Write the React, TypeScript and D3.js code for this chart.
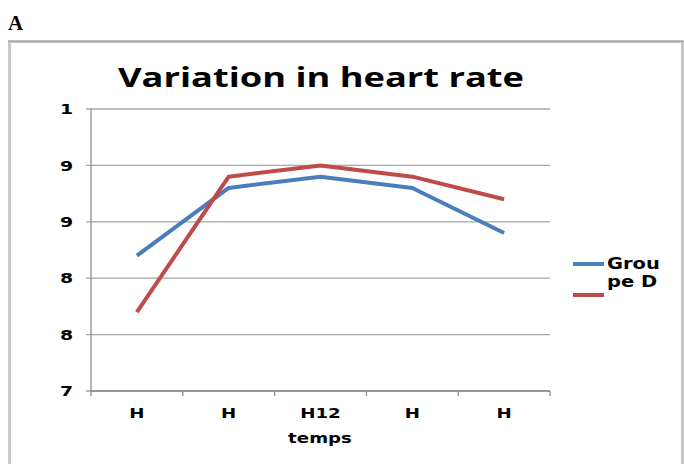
import React from 'react'
import * as d3 from 'd3'

// data
const categories = ['H', 'H', 'H12', 'H', 'H']
const blueValues = [8.7, 9.3, 9.4, 9.3, 8.9]
const redValues = [8.2, 9.4, 9.5, 9.4, 9.2]
const yTicks = [7.5, 8, 8.5, 9, 9.5, 10]
const yTickLabels = ['7', '8', '8', '9', '9', '1']
const legendLines = ['Grou', 'pe D']

const W = 684
const H = 464
const margin = { left: 91, right: 134, top: 109, bottom: 73 }

// the original picture is stretched sideways, so text is widened a bit
const widen = 1.3

export default function App() {
  var x = d3.scaleBand<number>()
    .domain(categories.map((c, i) => i))
    .range([margin.left, W - margin.right])

  var y = d3.scaleLinear()
    .domain([7.5, 10])
    .range([H - margin.bottom, margin.top])

  var line = d3.line<number>()
    .x((d, i) => x(i)! + x.bandwidth() / 2)
    .y(d => y(d))

  const sans = "'DejaVu Sans', 'Open Sans', sans-serif"
  const x0 = margin.left
  const x1 = W - margin.right
  const bottom = H - margin.bottom

  // text stretched horizontally around its anchor point
  const wide = (tx: number, ty: number) => `translate(${tx},${ty}) scale(${widen},1)`

  return (
    <div style={{ position: 'absolute', left: 0, top: 0 }}>
      <svg width={W} height={H} style={{ display: 'block', background: '#fff' }}>
        <text x={8} y={30} fontFamily="'Liberation Serif', serif" fontWeight="bold" fontSize={21}>A</text>

        {/* chart frame */}
        <rect x={9.5} y={41.5} width={673} height={440} fill="#fff" stroke="#c8c8c8" strokeWidth={3} />
        <line x1={8} x2={684} y1={41.5} y2={41.5} stroke="#a8a8a8" strokeWidth={1.5} />

        <text x={321} y={87} textAnchor="middle" fontFamily="'Open Sans', sans-serif" fontWeight="bold" fontSize={26}
          textLength={406} lengthAdjust="spacingAndGlyphs">Variation in heart rate</text>

        {/* gridlines + y ticks */}
        {yTicks.map((t, i) => (
          <g key={'y' + i}>
            <line x1={x0 - 5} x2={x1} y1={y(t)} y2={y(t)} stroke="#a6a6a6" strokeWidth={1.3} />
            <text transform={wide(73, y(t))} dy="0.36em" textAnchor="end" fontFamily={sans} fontWeight="bold" fontSize={14.5}>
              {yTickLabels[i]}
            </text>
          </g>
        ))}

        {/* axes */}
        <line x1={x0} x2={x0} y1={margin.top} y2={bottom + 5} stroke="#8c8c8c" strokeWidth={1.3} />
        <line x1={x0} x2={x1} y1={bottom} y2={bottom} stroke="#8c8c8c" strokeWidth={1.3} />
        {categories.map((c, i) => (
          <line key={'t' + i} x1={x(i)! + x.bandwidth()} x2={x(i)! + x.bandwidth()} y1={bottom} y2={bottom + 5}
            stroke="#8c8c8c" strokeWidth={1.3} />
        ))}
        {categories.map((c, i) => (
          <text key={'c' + i} transform={wide(x(i)! + x.bandwidth() / 2, bottom + 27)} textAnchor="middle"
            fontFamily={sans} fontWeight="bold" fontSize={14}>{c}</text>
        ))}
        <text transform={wide(320, bottom + 52)} textAnchor="middle" fontFamily={sans} fontWeight="bold" fontSize={14}>temps</text>

        {/* series */}
        <path d={line(blueValues)!} fill="none" stroke="#4a7ebb" strokeWidth={4} strokeLinejoin="round" />
        <path d={line(redValues)!} fill="none" stroke="#be4b48" strokeWidth={4} strokeLinejoin="round" />

        {/* legend */}
        <line x1={573} x2={604} y1={264} y2={264} stroke="#4a7ebb" strokeWidth={4} />
        <line x1={573} x2={604} y1={295} y2={295} stroke="#be4b48" strokeWidth={4} />
        {legendLines.map((s, i) => (
          <text key={'l' + i} transform={wide(607, 269 + i * 18)} fontFamily={sans} fontWeight="bold" fontSize={15}>{s}</text>
        ))}
      </svg>
    </div>
  )
}
